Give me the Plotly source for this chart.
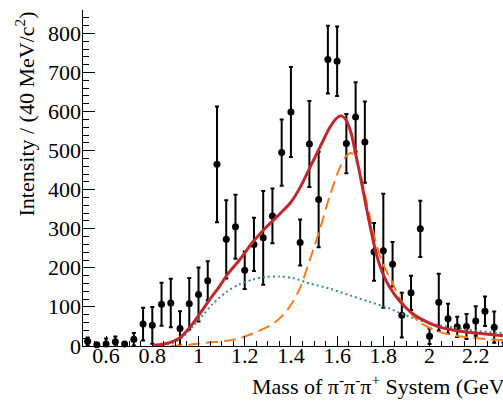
import plotly.graph_objects as go

# Data points (bin centers, 40 MeV bins)
mass = [0.52, 0.56, 0.60, 0.64, 0.68, 0.72, 0.76, 0.80, 0.84, 0.88, 0.92, 0.96,
        1.00, 1.04, 1.08, 1.12, 1.16, 1.20, 1.24, 1.28, 1.32, 1.36, 1.40, 1.44,
        1.48, 1.52, 1.56, 1.60, 1.64, 1.68, 1.72, 1.76, 1.80, 1.84, 1.88, 1.92,
        1.96, 2.00, 2.04, 2.08, 2.12, 2.16, 2.20, 2.24, 2.28, 2.32]
counts = [12, 3, 5, 11, 5, 17, 56, 53, 107, 110, 45, 108,
          132, 167, 465, 273, 305, 194, 260, 277, 333, 495, 599, 265,
          517, 375, 733, 729, 518, 586, 522, 241, 244, 209, 79, 136,
          300, 25, 112, 70, 49, 50, 64, 89, 48, 4]
errors = [10, 4, 14, 13, 5, 16, 42, 47, 55, 62, 44, 66,
          69, 50, 148, 100, 82, 48, 68, 120, 70, 85, 115, 59,
          110, 122, 87, 89, 76, 89, 104, 74, 146, 57, 57, 44,
          72, 20, 73, 38, 26, 32, 38, 38, 40, 5]

# Total fit (red solid)
total_x = [0.80, 0.85, 0.89, 0.92, 0.96, 1.00, 1.05, 1.09, 1.13, 1.18, 1.235, 1.29,
           1.35, 1.40, 1.44, 1.48, 1.52, 1.567, 1.596, 1.618, 1.639, 1.661, 1.683,
           1.704, 1.726, 1.748, 1.769, 1.798, 1.827, 1.87, 1.92, 1.96, 2.04, 2.13,
           2.22, 2.32]
total_y = [1, 5, 12, 21, 46, 78, 120, 152, 187, 222, 266, 302,
           337, 368, 406, 454, 502, 558, 582, 589, 578, 544, 484,
           424, 356, 292, 237, 185, 151, 115, 86, 70, 49, 38,
           32, 26]

# Resonance component (orange dashed)
res_x = [0.80, 0.92, 1.03, 1.15, 1.235, 1.32, 1.35, 1.394, 1.437, 1.481, 1.524,
         1.567, 1.61, 1.639, 1.661, 1.683, 1.704, 1.726, 1.748, 1.769, 1.798,
         1.841, 1.87, 1.957, 2.043, 2.13, 2.216, 2.32]
res_y = [0, 1, 8, 16, 32, 56, 70, 100, 145, 219, 296,
         382, 454, 486, 494, 476, 433, 373, 313, 262, 211,
         160, 122, 61, 36, 25, 19, 15]

# Background component (teal dotted)
bkg_x = [0.80, 0.86, 0.89, 0.932, 0.975, 1.019, 1.062, 1.12, 1.177, 1.235, 1.293,
         1.351, 1.408, 1.481, 1.567, 1.654, 1.74, 1.827, 1.87, 1.957, 2.043, 2.13,
         2.216, 2.32]
bkg_y = [0, 3, 8, 23, 49, 79, 108, 138, 158, 170, 177,
         178, 174, 160, 147, 130, 113, 96, 85, 66, 53, 45,
         38, 33]

# Y tick labels
y_ticks = [0, 100, 200, 300, 400, 500, 600, 700, 800]

FONT = "Liberation Serif"

fig = go.Figure()
fig.add_trace(go.Scatter(
    x=mass, y=counts, mode="markers",
    marker=dict(color="black", size=7),
    error_y=dict(type="data", array=errors, color="black", thickness=2, width=2),
    showlegend=False, cliponaxis=False))
fig.add_trace(go.Scatter(
    x=bkg_x, y=bkg_y, mode="lines",
    line=dict(color="#3A8C8E", width=2, dash="2px,3px", shape="spline", smoothing=0.8),
    showlegend=False))
fig.add_trace(go.Scatter(
    x=res_x, y=res_y, mode="lines",
    line=dict(color="#FA7A1C", width=2, dash="12px,6px", shape="spline", smoothing=0.8),
    showlegend=False))
fig.add_trace(go.Scatter(
    x=total_x, y=total_y, mode="lines",
    line=dict(color="#C0282E", width=3, shape="spline", smoothing=0.8),
    showlegend=False))

axis_common = dict(showline=True, linecolor="black", linewidth=1, showgrid=False,
                   zeroline=False, ticks="inside", tickcolor="black", automargin=False,
                   tickfont=dict(family=FONT, size=22, color="black"))

annotations = [
    dict(text="Mass of π<sup>-</sup>π<sup>-</sup>π<sup>+</sup> System (GeV/c<sup>2</sup>)",
         xref="paper", yref="paper", x=(250 - 83) / 420, y=-(385 - 346) / 336,
         xanchor="left", yanchor="middle", showarrow=False,
         font=dict(family=FONT, size=22, color="black")),
    dict(text="Intensity / (40 MeV/c<sup>2</sup>)",
         xref="paper", yref="paper", x=(24 - 83) / 420, y=1.0,
         xanchor="center", yanchor="top", textangle=-90, showarrow=False,
         font=dict(family=FONT, size=22, color="black")),
]
for v in y_ticks:
    annotations.append(dict(
        text=str(v), xref="paper", yref="y", x=(82 - 83) / 420, y=v,
        xanchor="right", yanchor="middle", showarrow=False, borderpad=0,
        font=dict(family=FONT, size=22, color="black")))

fig.update_layout(
    width=503, height=403,
    margin=dict(l=83, r=0, t=10, b=57, pad=0),
    plot_bgcolor="white", paper_bgcolor="white",
    xaxis=dict(range=[0.5, 2.318], tick0=0, dtick=0.2, ticklen=10,
               ticklabelstandoff=-10,
               minor=dict(dtick=0.05, ticklen=5, ticks="inside", tickcolor="black"),
               **axis_common),
    yaxis=dict(range=[0, 860], tick0=0, dtick=100, ticklen=12, showticklabels=False,
               minor=dict(dtick=20, ticklen=6, ticks="inside", tickcolor="black"),
               **axis_common),
    annotations=annotations,
)

fig.write_html("out.html", config={"displayModeBar": False},
               post_script="document.body.style.margin='0';document.body.style.padding='0';")
